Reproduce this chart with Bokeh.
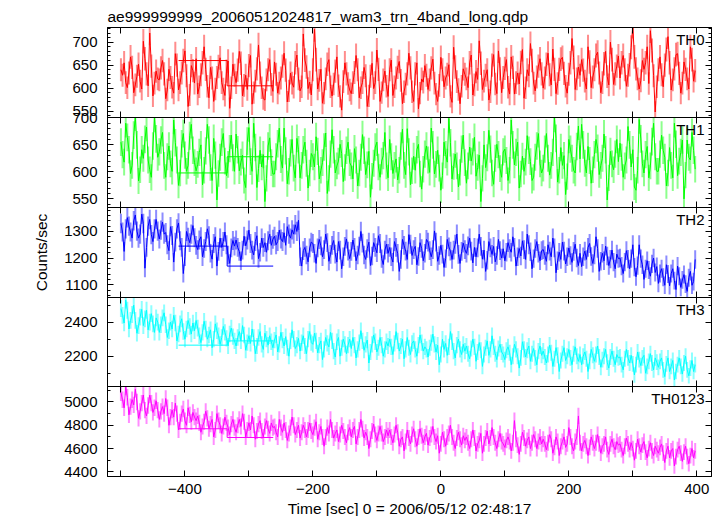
import numpy as np
from bokeh.plotting import figure
from bokeh.layouts import column
from bokeh.models import Range1d, LinearAxis, SingleIntervalTicker, FixedTicker, Label
from bokeh.embed import file_html
from bokeh.resources import INLINE

# ---------------- data ----------------
T0 = -500.0   # time of first bin [s]
DT = 2.5      # bin spacing [s]

th0 = [
    640, 628, 655, 612, 601, 633, 668, 645, 590, 607, 626, 652, 615, 598, 702, 664, 631, 605, 720, 648, 583, 611, 637, 620,
    618, 644, 660, 631, 577, 596, 641, 623, 602, 589, 675, 650, 596, 612, 633, 660, 681, 627, 560, 585, 649, 638, 611, 664,
    587, 603, 629, 655, 690, 641, 604, 579, 645, 622, 571, 598, 623, 647, 666, 612, 598, 584, 637, 659, 556, 601, 652, 628,
    612, 639, 680, 654, 583, 606, 628, 597, 649, 671, 565, 590, 615, 642, 694, 633, 601, 577, 574, 618, 640, 662, 608, 593,
    657, 630, 589, 611, 622, 648, 676, 639, 570, 594, 633, 611, 602, 655, 672, 620, 594, 603, 718, 661, 646, 599, 613, 585,
    640, 728, 662, 598, 617, 641, 567, 589, 620, 652, 662, 603, 583, 609, 637, 668, 605, 582, 552, 614, 655, 631, 610, 596,
    588, 612, 634, 671, 640, 579, 601, 612, 645, 627, 560, 583, 626, 654, 599, 612, 683, 641, 571, 590, 618, 637, 604, 582,
    640, 661, 584, 603, 622, 645, 658, 617, 566, 592, 609, 631, 676, 644, 592, 571, 631, 655, 555, 589, 620, 613, 649, 628,
    597, 618, 644, 663, 611, 587, 571, 606, 667, 640, 603, 622, 630, 651, 582, 569, 689, 646, 614, 597, 566, 604, 642, 630,
    620, 601, 655, 672, 585, 607, 636, 619, 703, 654, 597, 615, 628, 640, 574, 592, 650, 673, 609, 588, 681, 642, 590, 623,
    643, 662, 602, 587, 668, 645, 587, 612, 633, 609, 656, 684, 578, 601, 640, 627, 697, 660, 611, 594, 624, 648, 664, 631,
    600, 622, 652, 676, 629, 607, 685, 641, 588, 610, 641, 663, 667, 632, 604, 589, 630, 655, 708, 667, 597, 620, 646, 628,
    662, 639, 615, 598, 690, 657, 601, 624, 640, 671, 678, 633, 590, 612, 653, 680, 625, 607, 700, 662, 608, 631, 648, 670,
    622, 655, 671, 640, 604, 628, 651, 689, 735, 668, 642, 620, 598, 616, 660, 641, 655, 690, 610, 725, 682, 627, 548, 603,
    640, 668, 629, 603, 650, 684, 712, 655, 596, 618, 642, 673, 675, 632, 589, 611, 657, 641, 620, 598, 690, 662, 615, 638,
]
th1 = [
    655, 632, 618, 690, 664, 641, 597, 612, 668, 702, 650, 583, 604, 641, 625, 660, 683, 622, 604, 590, 648, 700, 661, 627,
    637, 659, 673, 612, 590, 628, 648, 615, 601, 696, 654, 622, 575, 598, 652, 671, 631, 601, 612, 667, 688, 640, 617, 602,
    614, 636, 650, 576, 603, 639, 688, 659, 608, 584, 662, 631, 548, 597, 627, 655, 671, 620, 593, 614, 643, 668, 626, 601,
    670, 641, 602, 618, 631, 584, 571, 657, 682, 619, 601, 690, 645, 571, 606, 640, 609, 632, 545, 588, 648, 663, 617, 596,
    596, 628, 652, 681, 623, 607, 681, 639, 578, 601, 635, 660, 607, 589, 662, 641, 589, 612, 641, 655, 616, 570, 598, 634,
    628, 609, 665, 638, 587, 603, 617, 646, 672, 560, 588, 633, 678, 641, 598, 611, 620, 651, 634, 582, 608, 640, 655, 617,
    611, 587, 643, 622, 574, 598, 627, 669, 640, 595, 613, 638, 553, 592, 616, 646, 655, 609, 590, 620, 630, 673, 611, 589,
    660, 628, 597, 612, 624, 585, 603, 648, 679, 612, 595, 680, 637, 576, 602, 629, 603, 641, 651, 596, 568, 605, 633, 648,
    622, 599, 681, 650, 596, 614, 640, 607, 566, 593, 655, 632, 618, 699, 654, 587, 610, 633, 611, 572, 599, 642, 668, 617,
    579, 611, 646, 620, 637, 664, 592, 608, 631, 545, 588, 650, 608, 626, 677, 642, 598, 577, 625, 651, 632, 606, 590, 637,
    642, 621, 584, 603, 696, 650, 613, 636, 655, 570, 596, 629, 601, 618, 667, 640, 619, 584, 590, 627, 648, 671, 615, 598,
    607, 642, 671, 625, 594, 612, 636, 700, 662, 581, 603, 645, 612, 630, 558, 591, 660, 642, 625, 603, 598, 647, 685, 624,
    688, 650, 616, 598, 647, 621, 579, 604, 632, 660, 644, 595, 612, 625, 670, 641, 548, 589, 638, 615, 604, 633, 660, 619,
    653, 627, 590, 611, 622, 684, 650, 609, 641, 572, 566, 603, 697, 661, 615, 598, 632, 647, 589, 611, 656, 690, 628, 601,
    601, 633, 668, 640, 627, 574, 598, 645, 612, 589, 690, 651, 593, 620, 636, 659, 550, 594, 659, 627, 622, 673, 640, 605,
]
th2 = [
    1330, 1298, 1225, 1310, 1352, 1320, 1298, 1275, 1340, 1362, 1301, 1275, 1290, 1365, 1330, 1162, 1240, 1320, 1345, 1288, 1262, 1310, 1345, 1301,
    1272, 1305, 1335, 1290, 1296, 1250, 1228, 1318, 1285, 1185, 1260, 1310, 1332, 1265, 1240, 1142, 1205, 1300, 1278, 1258, 1290, 1322, 1276, 1248,
    1232, 1268, 1280, 1205, 1236, 1262, 1310, 1284, 1218, 1196, 1255, 1280, 1170, 1225, 1275, 1240, 1262, 1298, 1250, 1212, 1180, 1238, 1266, 1245,
    1268, 1240, 1225, 1190, 1230, 1282, 1246, 1268, 1305, 1255, 1230, 1212, 1262, 1284, 1198, 1222, 1275, 1240, 1258, 1222, 1265, 1290, 1248, 1271,
    1282, 1250, 1262, 1305, 1272, 1262, 1295, 1248, 1318, 1290, 1275, 1306, 1290, 1325, 1300, 1342, 1205, 1170, 1228, 1240, 1212, 1186, 1238, 1260,
    1255, 1218, 1180, 1238, 1270, 1246, 1205, 1232, 1290, 1258, 1188, 1214, 1248, 1266, 1215, 1185, 1262, 1230, 1160, 1205, 1244, 1272, 1226, 1198,
    1225, 1268, 1240, 1190, 1212, 1245, 1300, 1256, 1212, 1195, 1236, 1260, 1172, 1208, 1258, 1240, 1220, 1284, 1255, 1198, 1176, 1230, 1252, 1218,
    1240, 1205, 1185, 1262, 1240, 1218, 1150, 1195, 1270, 1248, 1226, 1195, 1288, 1252, 1210, 1232, 1244, 1175, 1206, 1258, 1236, 1190, 1218, 1270,
    1260, 1228, 1205, 1232, 1302, 1260, 1188, 1210, 1248, 1215, 1165, 1198, 1270, 1242, 1226, 1195, 1230, 1252, 1290, 1214, 1180, 1225, 1256, 1232,
    1218, 1246, 1275, 1226, 1182, 1240, 1205, 1238, 1290, 1244, 1196, 1230, 1150, 1192, 1262, 1238, 1214, 1244, 1186, 1210, 1270, 1228, 1200, 1235,
    1190, 1222, 1258, 1236, 1222, 1280, 1240, 1170, 1205, 1236, 1208, 1265, 1232, 1195, 1290, 1250, 1224, 1160, 1198, 1236, 1262, 1218, 1190, 1228,
    1232, 1210, 1188, 1250, 1226, 1205, 1275, 1238, 1145, 1190, 1222, 1195, 1260, 1226, 1178, 1205, 1238, 1210, 1184, 1225, 1252, 1200, 1172, 1218,
    1168, 1205, 1226, 1195, 1240, 1255, 1206, 1180, 1212, 1280, 1236, 1150, 1188, 1218, 1190, 1245, 1208, 1172, 1196, 1230, 1185, 1160, 1215, 1198,
    1200, 1170, 1142, 1185, 1228, 1196, 1160, 1198, 1250, 1166, 1130, 1172, 1250, 1198, 1175, 1120, 1160, 1190, 1155, 1132, 1178, 1200, 1146, 1168,
    1105, 1142, 1160, 1128, 1098, 1175, 1140, 1096, 1142, 1160, 1115, 1082, 1170, 1132, 1090, 1118, 1138, 1102, 1075, 1126, 1150, 1098, 1112, 1195,
]
th3 = [
    2480, 2440, 2395, 2530, 2470, 2360, 2410, 2445, 2500, 2410, 2335, 2380, 2430, 2475, 2380, 2420, 2470, 2355, 2400, 2450, 2390, 2340, 2425, 2400,
    2340, 2385, 2425, 2455, 2385, 2310, 2350, 2400, 2360, 2440, 2395, 2290, 2330, 2390, 2420, 2345, 2300, 2360, 2410, 2375, 2330, 2395, 2350, 2410,
    2365, 2320, 2280, 2340, 2405, 2360, 2300, 2325, 2355, 2250, 2300, 2390, 2350, 2320, 2270, 2310, 2375, 2340, 2305, 2260, 2330, 2365, 2315, 2290,
    2260, 2310, 2345, 2290, 2380, 2325, 2235, 2280, 2320, 2275, 2360, 2310, 2215, 2260, 2310, 2345, 2270, 2240, 2335, 2300, 2265, 2320, 2285, 2250,
    2295, 2325, 2225, 2270, 2340, 2295, 2260, 2315, 2250, 2200, 2290, 2355, 2300, 2245, 2265, 2305, 2230, 2280, 2320, 2260, 2215, 2300, 2345, 2280,
    2270, 2335, 2290, 2220, 2265, 2290, 2180, 2240, 2310, 2275, 2255, 2340, 2290, 2230, 2195, 2285, 2310, 2200, 2250, 2300, 2270, 2215, 2265, 2300,
    2245, 2310, 2265, 2190, 2240, 2280, 2350, 2290, 2235, 2270, 2295, 2160, 2225, 2270, 2325, 2285, 2225, 2250, 2310, 2265, 2200, 2240, 2285, 2260,
    2300, 2255, 2210, 2275, 2345, 2290, 2230, 2260, 2300, 2185, 2240, 2310, 2250, 2210, 2275, 2290, 2240, 2200, 2265, 2325, 2280, 2230, 2255, 2240,
    2195, 2250, 2280, 2330, 2270, 2225, 2265, 2150, 2210, 2300, 2240, 2275, 2205, 2255, 2345, 2285, 2230, 2190, 2265, 2300, 2240, 2210, 2270, 2230,
    2260, 2215, 2185, 2245, 2300, 2255, 2170, 2225, 2280, 2235, 2140, 2210, 2250, 2290, 2205, 2240, 2320, 2255, 2215, 2180, 2245, 2270, 2225, 2210,
    2180, 2235, 2255, 2220, 2150, 2200, 2270, 2240, 2200, 2130, 2190, 2285, 2240, 2195, 2235, 2260, 2170, 2215, 2245, 2190, 2150, 2230, 2260, 2205,
    2230, 2195, 2160, 2210, 2265, 2220, 2140, 2185, 2250, 2205, 2110, 2175, 2215, 2250, 2175, 2200, 2240, 2190, 2150, 2215, 2255, 2200, 2170, 2210,
    2150, 2200, 2225, 2185, 2110, 2170, 2240, 2205, 2170, 2210, 2260, 2195, 2135, 2180, 2200, 2240, 2165, 2130, 2195, 2230, 2185, 2150, 2210, 2190,
    2195, 2150, 2120, 2185, 2240, 2190, 2160, 2205, 2155, 2090, 2150, 2225, 2180, 2145, 2190, 2205, 2100, 2140, 2170, 2215, 2160, 2120, 2190, 2165,
    2135, 2170, 2190, 2120, 2080, 2155, 2190, 2110, 2140, 2175, 2060, 2110, 2150, 2190, 2140, 2095, 2160, 2200, 2120, 2085, 2130, 2175, 2110, 2150,
]
th0123 = [
    5080, 5020, 4950, 5130, 5040, 4890, 4960, 5020, 4975, 5110, 5000, 4860, 4920, 4990, 5060, 4930, 4880, 4970, 5060, 4990, 4910, 4950, 5010, 4930,
    4850, 4920, 4960, 4900, 5030, 4950, 4800, 4870, 4930, 4870, 4990, 4900, 4760, 4830, 4900, 4940, 4840, 4800, 4950, 4890, 4830, 4910, 4870, 4840,
    4880, 4820, 4740, 4790, 4830, 4920, 4860, 4770, 4810, 4850, 4700, 4760, 4900, 4840, 4800, 4730, 4790, 4870, 4820, 4780, 4720, 4810, 4850, 4780,
    4740, 4800, 4850, 4790, 4900, 4830, 4700, 4760, 4820, 4760, 4880, 4800, 4680, 4750, 4810, 4840, 4750, 4700, 4790, 4840, 4770, 4730, 4820, 4780,
    4790, 4740, 4700, 4850, 4780, 4740, 4820, 4760, 4670, 4730, 4780, 4870, 4800, 4720, 4760, 4800, 4690, 4740, 4800, 4760, 4700, 4760, 4820, 4750,
    4720, 4780, 4830, 4680, 4740, 4790, 4700, 4620, 4700, 4780, 4730, 4850, 4760, 4690, 4730, 4760, 4660, 4720, 4800, 4750, 4700, 4650, 4740, 4780,
    4700, 4760, 4790, 4640, 4700, 4760, 4850, 4770, 4690, 4740, 4700, 4600, 4680, 4750, 4810, 4720, 4670, 4730, 4790, 4730, 4660, 4700, 4760, 4710,
    4760, 4700, 4650, 4720, 4800, 4740, 4620, 4680, 4700, 4580, 4660, 4760, 4690, 4640, 4720, 4770, 4680, 4620, 4700, 4770, 4710, 4650, 4700, 4730,
    4630, 4690, 4720, 4790, 4700, 4660, 4710, 4560, 4640, 4740, 4680, 4620, 4700, 4730, 4800, 4700, 4650, 4600, 4690, 4740, 4680, 4630, 4710, 4670,
    4700, 4650, 4600, 4680, 4760, 4690, 4580, 4640, 4670, 4730, 4560, 4640, 4690, 4750, 4640, 4690, 4780, 4700, 4650, 4600, 4680, 4730, 4660, 4640,
    4610, 4670, 4700, 4660, 4580, 4650, 4840, 4680, 4630, 4550, 4640, 4740, 4690, 4620, 4670, 4700, 4600, 4650, 4720, 4680, 4600, 4660, 4700, 4640,
    4680, 4640, 4590, 4650, 4720, 4680, 4560, 4610, 4700, 4660, 4540, 4620, 4660, 4700, 4610, 4640, 4780, 4700, 4620, 4580, 4660, 4700, 4880, 4650,
    4580, 4640, 4670, 4620, 4540, 4610, 4700, 4650, 4600, 4650, 4720, 4640, 4560, 4620, 4640, 4700, 4590, 4550, 4640, 4680, 4620, 4590, 4660, 4630,
    4640, 4590, 4540, 4620, 4690, 4640, 4590, 4650, 4600, 4500, 4580, 4680, 4620, 4570, 4630, 4660, 4570, 4520, 4600, 4650, 4580, 4540, 4620, 4590,
    4560, 4610, 4640, 4560, 4480, 4580, 4620, 4520, 4580, 4600, 4450, 4530, 4590, 4620, 4560, 4490, 4570, 4620, 4530, 4470, 4540, 4600, 4520, 4580,
]

# two long bins (drawn as steps)
wide_edges = [-410, -334, -262]
wide_th0 = [660, 605]
wide_th1 = [598, 628]
wide_th2 = [1245, 1170]
wide_th3 = [2265, 2290]
wide_th0123 = [4770, 4695]

names = ["TH0", "TH1", "TH2", "TH3", "TH0123"]
series = [th0, th1, th2, th3, th0123]
wides = [wide_th0, wide_th1, wide_th2, wide_th3, wide_th0123]

x_ticks = [-500, -400, -300, -200, -100, 0, 100, 200, 300, 400]
x_tick_labels = {-500: "", -400: "\u2212400", -300: "", -200: "\u2212200", -100: "",
                 0: "0", 100: "", 200: "200", 300: "", 400: "400"}
title_text = "ae999999999_20060512024817_wam3_trn_4band_long.qdp"
y_label = "Counts/sec"
x_label = "Time [sec] 0 = 2006/05/12 02:48:17"

# ---------------- styling ----------------
colors = ["#ff0000", "#00ff00", "#0000ff", "#00ffff", "#ff00ff"]
yranges = [(536, 732), (534, 700.7), (1052, 1390), (2022, 2545), (4360, 5133)]
y_major = [50, 50, 100, 200, 200]
y_minor = [5, 5, 5, 2, 2]
frame_h = [90, 90, 90, 89, 90]
FONT = "Liberation Sans"
XR = (-521, 423)
PAD = 9   # transparent border that lets edge tick labels overlap neighbours


def style_axis(ax, show_labels, standoff=10):
    ax.major_tick_in = 6
    ax.major_tick_out = 0
    ax.minor_tick_in = 3
    ax.minor_tick_out = 0
    ax.axis_line_color = "black"
    ax.major_tick_line_color = "black"
    ax.minor_tick_line_color = "black"
    ax.major_label_text_font = FONT
    ax.major_label_text_font_size = "15px"
    if show_labels:
        ax.major_label_text_color = "black"
        ax.major_label_standoff = standoff
    else:
        ax.major_label_text_color = None
        ax.major_label_standoff = 0


figs = []
for i in range(5):
    first = i == 0
    last = i == 4
    p = figure(frame_width=604, frame_height=frame_h[i],
               x_range=Range1d(*XR), y_range=Range1d(*yranges[i]),
               output_backend="svg", toolbar_location=None,
               x_axis_location=None, y_axis_location=None,
               min_border_left=107, min_border_right=6,
               min_border_top=27 if first else PAD,
               min_border_bottom=40 if last else PAD,
               background_fill_color="white", border_fill_color=None)
    if not first:
        p.margin = (-2 * PAD, 0, 0, 0)
    p.outline_line_color = "black"
    p.outline_line_width = 1
    p.grid.visible = False

    # y axes
    for loc, lab in (("left", True), ("right", False)):
        ax = LinearAxis(ticker=SingleIntervalTicker(interval=y_major[i], num_minor_ticks=y_minor[i]))
        style_axis(ax, lab)
        if loc == "left" and i == 2:
            ax.axis_label = y_label
            ax.axis_label_text_font = FONT
            ax.axis_label_text_font_size = "15.5px"
            ax.axis_label_text_font_style = "normal"
            ax.axis_label_text_color = "black"
            ax.axis_label_standoff = 11
        p.add_layout(ax, loc)
    # x axes
    for loc in ("above", "below"):
        ax = LinearAxis(ticker=FixedTicker(ticks=x_ticks, minor_ticks=[]))
        lab = last and loc == "below"
        style_axis(ax, lab, standoff=7)
        if lab:
            ax.major_label_overrides = x_tick_labels
            ax.axis_label = x_label
            ax.axis_label_text_font = FONT
            ax.axis_label_text_font_size = "15.5px"
            ax.axis_label_text_font_style = "normal"
            ax.axis_label_text_color = "black"
            ax.axis_label_standoff = 3
        p.add_layout(ax, loc)

    y = np.array(series[i], dtype=float)
    t = T0 + DT * np.arange(len(y))
    err = np.sqrt(y)
    p.segment(x0=t, y0=y - err, x1=t, y1=y + err,
              line_color=colors[i], line_alpha=0.45, line_width=2)
    p.line(t, y, line_color=colors[i], line_width=1)

    wx = np.repeat(np.array(wide_edges, dtype=float), 2)[1:-1]
    wy = np.repeat(np.array(wides[i], dtype=float), 2)
    p.line(wx, wy, line_color=colors[i], line_width=1)

    p.add_layout(Label(x=XR[1], y=yranges[i][1], x_offset=-7, y_offset=-3,
                       text=names[i], text_align="right", text_baseline="top",
                       text_font=FONT, text_font_size="15px", text_color="black"))

    if first:
        p.title.text = title_text
        p.title.text_font = FONT
        p.title.text_font_size = "15.5px"
        p.title.text_font_style = "normal"
        p.title.text_color = "black"
        p.title.align = "left"
        p.title.offset = 0
        p.title.standoff = 5
    figs.append(p)

layout = column(*figs, spacing=0)
open("out.html", "w").write(file_html(layout, INLINE))
